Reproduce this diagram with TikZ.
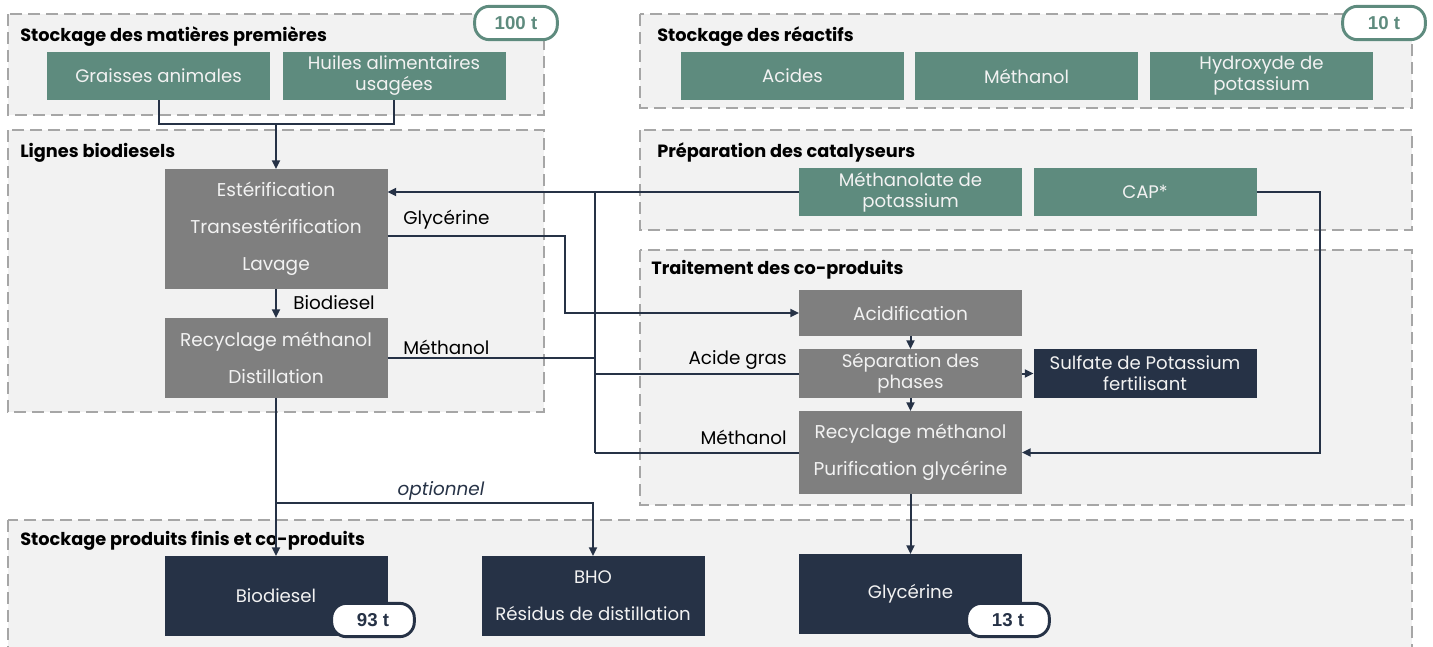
\documentclass[tikz,border=0pt]{standalone}
\usepackage{fontspec}
\setmainfont{Poppins}
\newfontfamily\badgefont{Liberation Sans}
\usetikzlibrary{arrows.meta}
\definecolor{matgreen}{RGB}{94,139,126}
\definecolor{procgray}{RGB}{127,127,127}
\definecolor{prodnavy}{RGB}{38,50,70}
\definecolor{grpfill}{RGB}{242,242,242}
\definecolor{grpline}{RGB}{166,166,166}
\definecolor{boxtext}{RGB}{242,242,242}
\tikzset{
  grp/.style={draw=grpline, fill=grpfill, dash pattern=on 9pt off 4.5pt, line width=1.1pt},
  grptitle/.style={anchor=west, inner sep=0pt, text=black, font=\bfseries\fontsize{13.3}{15}\selectfont},
  box/.style={inner sep=0pt, outer sep=0pt, minimum width=167.25pt, align=center, text=boxtext},
  gbox/.style={box, fill=matgreen, minimum height=36pt, font=\fontsize{13.6}{15.75}\selectfont},
  pbox/.style={box, fill=procgray, font=\fontsize{13.9}{27.75}\selectfont},
  dbox/.style={box, fill=prodnavy, font=\fontsize{13.6}{27.75}\selectfont},
  badge/.style={rounded corners=11pt, fill=white, line width=2.2pt, inner sep=0pt,
    minimum width=62pt, minimum height=25pt, font=\badgefont\bfseries\fontsize{14}{16}\selectfont},
  flow/.style={draw=prodnavy, line width=1.5pt},
  flowto/.style={flow, -{Triangle[length=6.5pt,width=6pt]}},
  lbl/.style={inner sep=0pt, text=black, font=\fontsize{13.8}{15}\selectfont}
}
\begin{document}
\begin{tikzpicture}[x=0.75pt,y=0.75pt,yscale=-1,xscale=1]
\clip (0,0) rectangle (1433,646);

% Groups
\draw[grp] (8,14) rectangle (544,115);
\draw[grp] (640,14) rectangle (1412,108);
\draw[grp] (8,130) rectangle (544,412);
\draw[grp] (640,130) rectangle (1412,230);
\draw[grp] (640,250) rectangle (1412,505);
\draw[grp] (8,520) rectangle (1412,660);

\node[grptitle] (tmp) at (20,37) {Stockage des matières premières};
\node[grptitle] (trea) at (657,37) {Stockage des réactifs};
\node[grptitle] (tlig) at (20,153) {Lignes biodiesels};
\node[grptitle] (tcat) at (657,152) {Préparation des catalyseurs};
\node[grptitle] (ttrt) at (651,270) {Traitement des co-produits};
\node[grptitle] (tsto) at (20,541) {Stockage produits finis et co-produits};

% Stockage matieres premieres / reactifs
\node[gbox] (graisses) at (158.5,76) {Graisses animales};
\node[gbox] (huiles) at (394,76) {Huiles alimentaires\\usagées};
\node[gbox] (acides) at (792.5,76) {Acides};
\node[gbox] (methanol) at (1026.5,76) {Méthanol};
\node[gbox] (hydroxyde) at (1261.5,76) {Hydroxyde de\\potassium};

% Catalyseurs
\node[gbox] (methanolate) at (910.5,192) {Méthanolate de\\potassium};
\node[gbox] (cap) at (1145,192) {CAP*};

% Lignes biodiesels
\node[pbox, minimum height=90pt] (esterif) at (276,229) {Estérification\\Transestérification\\Lavage};
\node[pbox, minimum height=60pt] (recyc) at (276,358) {Recyclage méthanol\\Distillation};

% Traitement des co-produits
\node[pbox, minimum height=34.5pt] (acid) at (910.5,313) {Acidification};
\node[pbox, minimum height=36.75pt, font=\fontsize{13.6}{15.75}\selectfont] (separation) at (910.5,373.5) {Séparation des\\phases};
\node[pbox, minimum height=62.25pt] (recyc2) at (910.5,452.5) {Recyclage méthanol\\Purification glycérine};
\node[dbox, minimum height=36.75pt, font=\fontsize{13.6}{15.75}\selectfont] (sulfate) at (1145,373.5) {Sulfate de Potassium\\fertilisant};

% Produits finis
\node[dbox, minimum height=60pt] (biodiesel) at (276,596) {Biodiesel};
\node[dbox, minimum height=60pt] (bho) at (593,596) {BHO\\Résidus de distillation};
\node[dbox, minimum height=60pt] (glycerine) at (910.5,594) {Glycérine};

% Badges
\node[badge, draw=matgreen, text=matgreen] (b100) at (516,23) {100 t};
\node[badge, draw=matgreen, text=matgreen] (b10) at (1384,23) {10 t};
\node[badge, draw=prodnavy, text=prodnavy] (b93) at (373,620) {93 t};
\node[badge, draw=prodnavy, text=prodnavy] (b13) at (1008,620) {13 t};

% Flows
\coordinate (mp) at (276,124);
\draw[flow] (graisses.south) |- (mp) -| (huiles.south);
\draw[flowto] (mp) -- (esterif.north);
\draw[flowto] (esterif.south) -- (recyc.north);

\coordinate (jtop) at (595,192);
\coordinate (jbot) at (595,453);
\draw[flowto] (methanolate.west) -- (esterif.east |- methanolate.west);
\draw[flow] (jtop) -- (jbot);
\draw[flow] (recyc.east) -- (recyc.east -| jtop);
\draw[flow] (separation.west) -- (separation.west -| jtop);
\draw[flow] (recyc2.west |- jbot) -- (jbot);

\coordinate (gly) at (565,236);
\draw[flowto] (esterif.east |- gly) -- (gly) |- (acid.west);

\draw[flowto] (acid.south) -- (separation.north);
\draw[flowto] (separation.south) -- (recyc2.north);
\draw[flowto] (separation.east) -- (sulfate.west);

\coordinate (capc) at (1320,192);
\draw[flowto] (cap.east) -- (capc) |- (recyc2.east);

\draw[flowto] (recyc2.south) -- (glycerine.north);

\coordinate (opt) at (276,503);
\draw[flowto] (recyc.south) -- (biodiesel.north);
\draw[flowto] (opt) -| (bho.north);

% Labels
\node[lbl, anchor=west] (lbio) at (293,303) {Biodiesel};
\node[lbl, anchor=west] (lgly) at (403,220) {Glycérine};
\node[lbl, anchor=west] (lmeth) at (403,347) {Méthanol};
\node[lbl, anchor=east] (lacide) at (787,360) {Acide gras};
\node[lbl, anchor=east] (lmeth2) at (787,437) {Méthanol};
\node[lbl, text=prodnavy, font=\itshape\fontsize{13.8}{15}\selectfont] (lopt) at (441,491) {optionnel};

\end{tikzpicture}
\end{document}
